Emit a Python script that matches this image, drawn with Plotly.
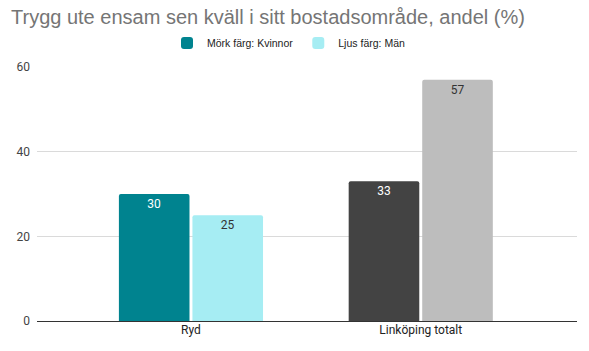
import plotly.graph_objects as go

categories = ["Ryd", "Linköping totalt"]
kvinnor = [30, 33]
man = [25, 57]
kvinnor_colors = ["#00838F", "#434343"]
man_colors = ["#A6EDF3", "#BDBDBD"]
kvinnor_text_colors = ["#FFFFFF", "#FFFFFF"]
man_text_colors = ["#333333", "#333333"]
y_ticks = [0, 20, 40, 60]

W, H = 589, 351
L, R, T, B = 37, 12, 67, 30

fig = go.Figure()
fig.add_trace(go.Bar(
    x=categories, y=kvinnor, name="Mörk färg: Kvinnor",
    marker=dict(color=kvinnor_colors, cornerradius=2, line=dict(width=0)),
    text=kvinnor, textposition="inside", insidetextanchor="end",
    textfont=dict(color=kvinnor_text_colors, size=12, family="Roboto"),
    textangle=0,
))
fig.add_trace(go.Bar(
    x=categories, y=man, name="Ljus färg: Män",
    marker=dict(color=man_colors, cornerradius=2, line=dict(width=0)),
    text=man, textposition="inside", insidetextanchor="end",
    textfont=dict(color=man_text_colors, size=12, family="Roboto"),
    textangle=0,
))

fig.update_layout(
    width=W, height=H,
    margin=dict(l=L, r=R, t=T, b=B),
    paper_bgcolor="white", plot_bgcolor="white",
    barmode="group", bargap=0.36, bargroupgap=0.04,
    font=dict(family="Roboto", size=12, color="#444444"),
    title=dict(text="Trygg ute ensam sen kväll i sitt bostadsområde, andel (%)",
               x=11 / W, xanchor="left", y=1 - 17 / H, yanchor="middle",
               font=dict(family="Liberation Sans, Arial", size=20, color="#757575")),
    legend=dict(orientation="h", x=(167 - L) / (W - L - R), xanchor="left",
                y=1 + (67 - 43) / (H - T - B), yanchor="middle",
                font=dict(family="Liberation Sans, Arial", size=10.5, color="#222222"),
                itemsizing="constant", traceorder="normal"),
    showlegend=True,
    uniformtext=dict(minsize=8, mode="show"),
)
fig.update_xaxes(range=[-0.67, 1.68], showgrid=False, showline=False, ticks="",
                 tickfont=dict(size=12, color="#222222", family="Roboto"))
fig.update_yaxes(range=[0, 60], tickvals=y_ticks, showgrid=True, gridcolor="#DADADA",
                 gridwidth=1, zeroline=True, zerolinecolor="#333333", zerolinewidth=1,
                 showline=False, ticks="", ticklabelstandoff=6,
                 tickfont=dict(size=12, color="#444444", family="Roboto"))

fig.write_html("out.html")
